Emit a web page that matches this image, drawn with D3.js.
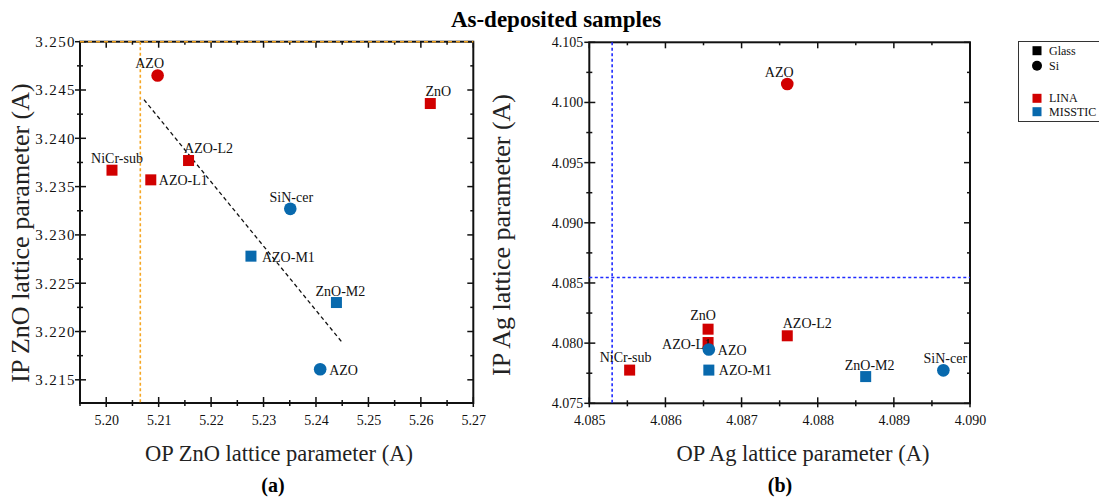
<!DOCTYPE html>
<html><head><meta charset="utf-8">
<script src="https://cdn.jsdelivr.net/npm/d3@7"></script>
<style>
html,body{margin:0;padding:0;background:#fff;}
svg text{font-family:"Liberation Serif","Times New Roman",serif;}
</style></head>
<body>
<svg id="chart" width="1099" height="499"></svg>
<script>
// ---------- DATA ----------
const samplesA   = ["AZO","ZnO","NiCr-sub","AZO-L1","AZO-L2","SiN-cer","AZO-M1","ZnO-M2","AZO"];
const labA       = ["LINA","LINA","LINA","LINA","LINA","MISSTIC","MISSTIC","MISSTIC","MISSTIC"];
const substrateA = ["Si","Glass","Glass","Glass","Glass","Si","Glass","Glass","Si"];
const opZnO      = [5.2098,5.2618,5.2011,5.2085,5.2157,5.2351,5.2276,5.2439,5.2408];
const ipZnO      = [3.2465,3.2436,3.2367,3.2357,3.2377,3.2327,3.2278,3.2230,3.2161];

const samplesB   = ["AZO","ZnO","AZO-L1","AZO-L2","NiCr-sub","AZO","AZO-M1","ZnO-M2","SiN-cer"];
const labB       = ["LINA","LINA","LINA","LINA","LINA","MISSTIC","MISSTIC","MISSTIC","MISSTIC"];
const substrateB = ["Si","Glass","Glass","Glass","Glass","Si","Glass","Glass","Si"];
const opAg       = [4.0876,4.08656,4.08656,4.0876,4.08553,4.08657,4.08657,4.08863,4.08965];
const ipAg       = [4.10154,4.08116,4.08005,4.08061,4.07776,4.07947,4.07776,4.07722,4.07774];

// reference lines (bulk values) and trend line
const refZnO_op = 5.2065, refZnO_ip = 3.250;
const trendZnO  = [[5.2072,3.2440],[5.2451,3.2188]];
const refAg_op  = 4.0853, refAg_ip = 4.08545;

// axes ticks
const xTicksA = [5.20,5.21,5.22,5.23,5.24,5.25,5.26,5.27];
const yTicksA = [3.215,3.220,3.225,3.230,3.235,3.240,3.245,3.250];
const xTicksB = [4.085,4.086,4.087,4.088,4.089,4.090];
const yTicksB = [4.075,4.080,4.085,4.090,4.095,4.100,4.105];

const legendItems = ["Glass","Si","","LINA","MISSTIC"];

// label layout offsets (dx, dy, anchor) per point
const offA = [[-8,-8,"middle"],[8,-8,"middle"],[5,-7,"middle"],[8,5,"start"],[20,-8,"middle"],
              [1,-7,"middle"],[11,6,"start"],[4,-7,"middle"],[9,6,"start"]];
const offB = [[-8,-7,"middle"],[-5,-9,"middle"],[3,6,"end"],[20,-8,"middle"],[-4,-8,"middle"],
              [9,5,"start"],[10,5,"start"],[4,-7,"middle"],[2,-7,"middle"]];

// ---------- STYLE ----------
const colors = {LINA:"#d10000", MISSTIC:"#0869ad"};
const svg = d3.select("#chart");

svg.append("text").attr("x",556).attr("y",27).attr("text-anchor","middle")
  .attr("font-size",23).attr("font-weight","bold").text("As-deposited samples");

function midTicks(t){ const s=t[1]-t[0]; const r=[]; for(let i=0;i<t.length-1;i++) r.push(t[i]+s/2); r.unshift(t[0]-s/2); r.push(t[t.length-1]+s/2); return r; }

function panel(cfg){
  const {x0,x1,y0,y1,xd,yd,xt,yt,xfmt,yfmt} = cfg;
  const x = d3.scaleLinear().domain(xd).range([x0,x1]);
  const y = d3.scaleLinear().domain(yd).range([y1,y0]);
  const g = svg.append("g");
  const inX = v => v>=xd[0]-1e-9 && v<=xd[1]+1e-9;
  const inY = v => v>=yd[0]-1e-9 && v<=yd[1]+1e-9;
  const xMin = midTicks(xt).filter(inX), yMin = midTicks(yt).filter(inY);

  // bottom axis
  const bx = g.append("g").attr("transform",`translate(0,${y1})`)
    .call(d3.axisBottom(x).tickValues(xt).tickFormat(xfmt).tickSizeOuter(0).tickSize(0).tickPadding(12));
  bx.select(".domain").remove();
  bx.selectAll("text").attr("font-size",14).attr("fill","#111").attr("font-family","Liberation Serif");
  // left axis
  const ly = g.append("g").attr("transform",`translate(${x0},0)`)
    .call(d3.axisLeft(y).tickValues(yt).tickFormat(yfmt).tickSizeOuter(0).tickSize(0).tickPadding(cfg.yPad||8));
  ly.select(".domain").remove();
  ly.selectAll("text").attr("font-size",cfg.yFont||14).attr("fill","#111")
    .attr("letter-spacing",cfg.yLS||0).attr("font-family","Liberation Serif");

  const tk = g.append("g").attr("stroke","#111").attr("stroke-width",1.5);
  xt.filter(inX).forEach(v=>{
    tk.append("line").attr("x1",x(v)).attr("x2",x(v)).attr("y1",y1-6).attr("y2",y1+4);
    tk.append("line").attr("x1",x(v)).attr("x2",x(v)).attr("y1",y0).attr("y2",y0+6);
  });
  xMin.forEach(v=>{
    tk.append("line").attr("x1",x(v)).attr("x2",x(v)).attr("y1",y1-3).attr("y2",y1+3);
    tk.append("line").attr("x1",x(v)).attr("x2",x(v)).attr("y1",y0).attr("y2",y0+3);
  });
  yt.filter(inY).forEach(v=>{
    tk.append("line").attr("y1",y(v)).attr("y2",y(v)).attr("x1",x0-5).attr("x2",x0+6);
    tk.append("line").attr("y1",y(v)).attr("y2",y(v)).attr("x1",x1-6).attr("x2",x1);
  });
  yMin.forEach(v=>{
    tk.append("line").attr("y1",y(v)).attr("y2",y(v)).attr("x1",x0-3).attr("x2",x0+3);
    tk.append("line").attr("y1",y(v)).attr("y2",y(v)).attr("x1",x1-3).attr("x2",x1);
  });
  // frame
  g.append("rect").attr("x",x0).attr("y",y0).attr("width",x1-x0).attr("height",y1-y0)
    .attr("fill","none").attr("stroke","#111").attr("stroke-width",2);

  cfg.over && cfg.over(g,x,y);

  // points
  const pts = g.append("g");
  cfg.xs.forEach((xv,i)=>{
    const cx=x(xv), cy=y(cfg.ys[i]), c=colors[cfg.labs[i]];
    if(cfg.subs[i]==="Si") pts.append("circle").attr("cx",cx).attr("cy",cy).attr("r",6.3).attr("fill",c);
    else pts.append("rect").attr("x",cx-5.5).attr("y",cy-5.5).attr("width",11).attr("height",11).attr("fill",c);
    const o=cfg.off[i];
    pts.append("text").attr("x",cx+o[0]).attr("y",cy+o[1]).attr("text-anchor",o[2])
      .attr("font-size",14).attr("fill","#111").text(cfg.names[i]);
  });

  // axis titles
  svg.append("text").attr("x",cfg.xlx).attr("y",461).attr("text-anchor","middle")
    .attr("font-size",22.5).attr("fill","#222").text(cfg.xlabel);
  svg.append("text").attr("transform",`translate(${cfg.ylx},${cfg.yly}) rotate(-90)`)
    .attr("text-anchor","middle").attr("font-size",26).attr("fill","#222").text(cfg.ylabel);
  svg.append("text").attr("x",cfg.tagx).attr("y",492).attr("text-anchor","middle")
    .attr("font-size",20).attr("font-weight","bold").text(cfg.tag);
}

panel({x0:80,x1:473.3,y0:41.7,y1:403,xd:[5.195,5.27],yd:[3.2126,3.250],
  xt:xTicksA,yt:yTicksA,xfmt:d3.format(".2f"),yfmt:d3.format(".3f"),yFont:15,yLS:1.4,yPad:4,
  xs:opZnO,ys:ipZnO,labs:labA,subs:substrateA,names:samplesA,off:offA,
  xlabel:"OP ZnO lattice parameter (A)",xlx:279,ylabel:"IP ZnO lattice parameter (A)",ylx:29,yly:233,
  tag:"(a)",tagx:273,
  over:(g,x,y)=>{
    g.append("line").attr("x1",x(refZnO_op)).attr("x2",x(refZnO_op)).attr("y1",y(3.250)).attr("y2",403)
      .attr("stroke","#f5a623").attr("stroke-width",1.6).attr("stroke-dasharray","3,2.5");
    g.append("line").attr("x1",80).attr("x2",473.3).attr("y1",y(refZnO_ip)).attr("y2",y(refZnO_ip))
      .attr("stroke","#f5a623").attr("stroke-width",1.6).attr("stroke-dasharray","4,4");
    g.append("line").attr("x1",x(trendZnO[0][0])).attr("y1",y(trendZnO[0][1]))
      .attr("x2",x(trendZnO[1][0])).attr("y2",y(trendZnO[1][1]))
      .attr("stroke","#111").attr("stroke-width",1.3).attr("stroke-dasharray","4,3");
  }
});

panel({x0:589.3,x1:970,y0:42.3,y1:403.3,xd:[4.085,4.090],yd:[4.075,4.105],
  xt:xTicksB,yt:yTicksB,xfmt:d3.format(".3f"),yfmt:d3.format(".3f"),yPad:6,
  xs:opAg,ys:ipAg,labs:labB,subs:substrateB,names:samplesB,off:offB,
  xlabel:"OP Ag lattice parameter (A)",xlx:803,ylabel:"IP Ag lattice parameter (A)",ylx:510,yly:235,
  tag:"(b)",tagx:780,
  over:(g,x,y)=>{
    g.append("line").attr("x1",x(refAg_op)).attr("x2",x(refAg_op)).attr("y1",42.3).attr("y2",403.3)
      .attr("stroke","#1f2bff").attr("stroke-width",1.6).attr("stroke-dasharray","3,2.5");
    g.append("line").attr("x1",589.3).attr("x2",970).attr("y1",y(refAg_ip)).attr("y2",y(refAg_ip))
      .attr("stroke","#1f2bff").attr("stroke-width",1.6).attr("stroke-dasharray","3,2.5");
  }
});

// legend
const lg = svg.append("g");
lg.append("rect").attr("x",1018.5).attr("y",41.5).attr("width",100).attr("height",80)
  .attr("fill","#fff").attr("stroke","#333").attr("stroke-width",1);
const legY = [50.7,65.7,0,98.3,111.7];
legendItems.forEach((t,i)=>{
  if(!t) return;
  const cy=legY[i];
  if(t==="Si") lg.append("circle").attr("cx",1037).attr("cy",cy).attr("r",5).attr("fill","#000");
  else lg.append("rect").attr("x",1032.5).attr("y",cy-4.5).attr("width",9).attr("height",9)
    .attr("fill", t==="Glass" ? "#000" : colors[t]);
  lg.append("text").attr("x",1049).attr("y",cy+4).attr("font-size",12).attr("fill","#111").text(t);
});
</script>
</body></html>
